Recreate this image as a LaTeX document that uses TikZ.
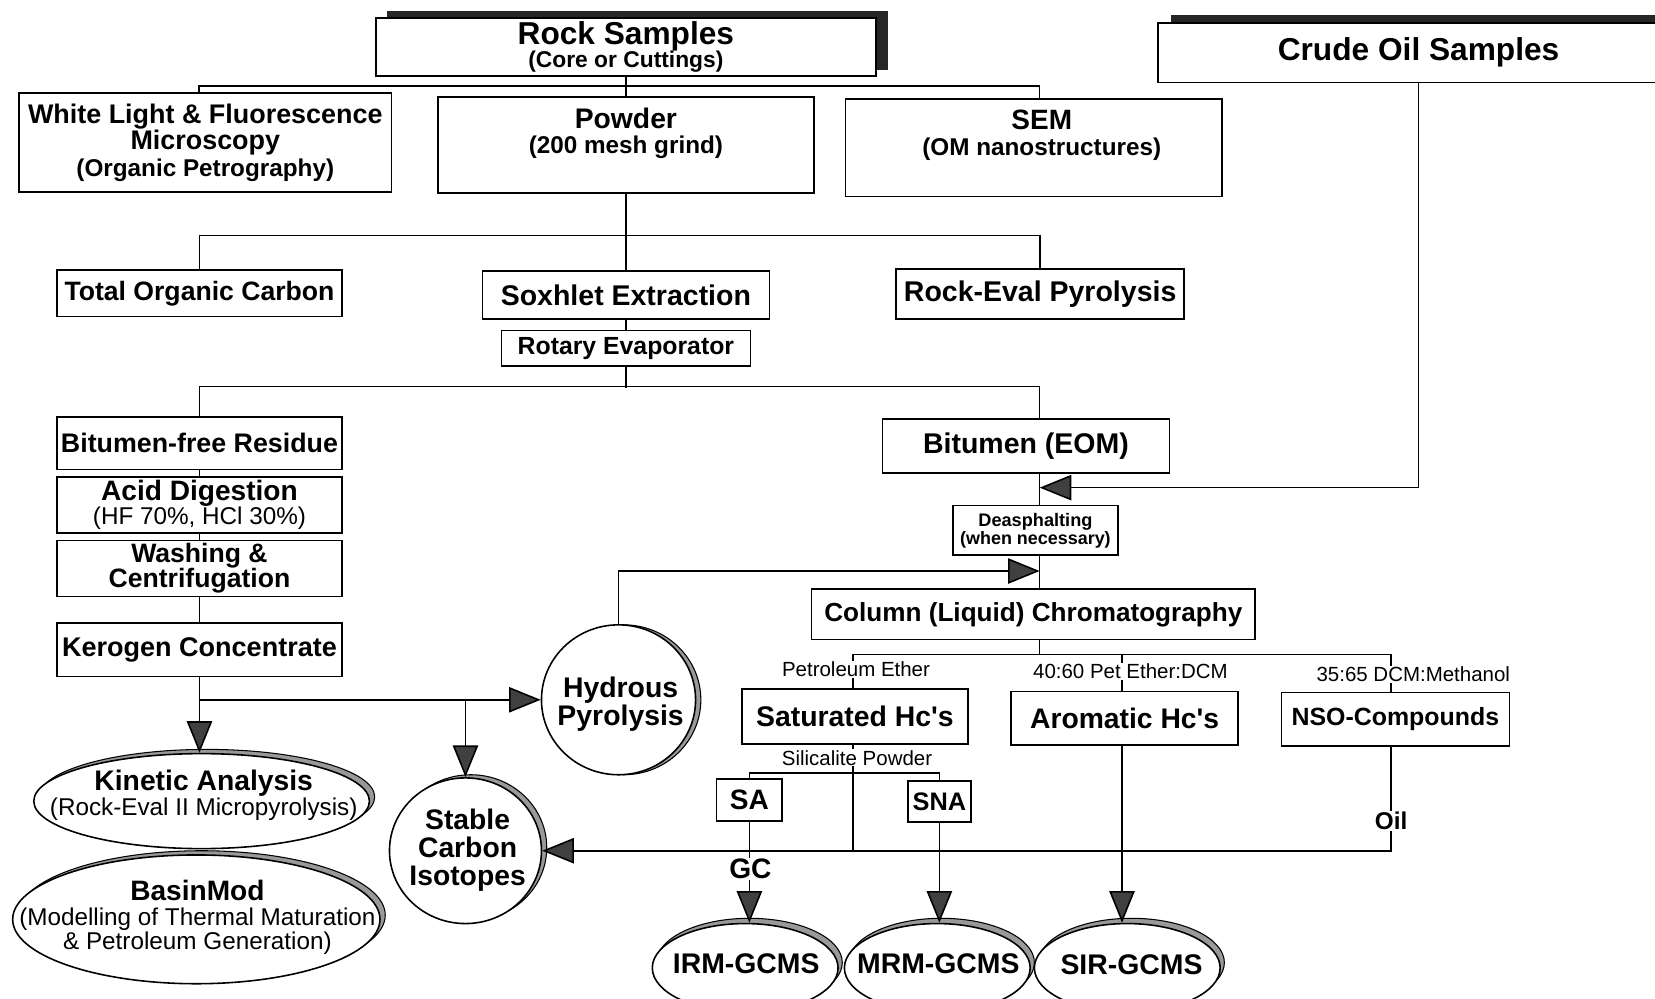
\documentclass[tikz,border=0pt]{standalone}
\usepackage{fontspec}
\setmainfont{Liberation Sans}
\usetikzlibrary{arrows.meta,shadows,shapes.geometric}
\newcommand\fb[1]{\fontsize{#1pt}{25pt}\selectfont\bfseries}
\newcommand\fr[1]{\fontsize{#1pt}{25pt}\selectfont\mdseries}
\begin{document}
\begin{tikzpicture}[x=1pt,y=-1pt,
  box/.style={draw,line width=1.5pt,fill=white,rectangle,inner sep=0pt,align=center,font=\fontsize{25pt}{25pt}\selectfont},
  oval/.style={draw,line width=1.5pt,fill=white,ellipse,inner sep=0pt},
  osh/.style 2 args={copy shadow={shadow xshift=#1pt,shadow yshift=#2pt,fill=black!40,draw=black,line width=1pt}},
  bsh/.style 2 args={copy shadow={shadow xshift=#1pt,shadow yshift=#2pt,fill=black!85,draw=black!85}},
  txt/.style={align=center,inner sep=0pt,font=\fontsize{25pt}{25pt}\selectfont},
  conn/.style={line width=1.5pt},
  arr/.style={line width=1.5pt,-{Triangle[length=30pt,width=24pt,fill=black!75]}},
  lbl/.style={fill=white,inner sep=1pt,font=\fr{19.4}},
  ]
\useasboundingbox (0,0) rectangle (1568,946);
\clip (0,0) rectangle (1568,946);
\fill[white] (0,0) rectangle (1568,946);

% ---------- top ----------
\node[box,minimum width=474pt,minimum height=55pt,bsh={11}{6}] (rock) at (593,44.5)
  {\fb{30}Rock Samples\\[-3pt]\fb{21.6}(Core or Cuttings)};
\node[box,minimum width=494pt,minimum height=56pt,bsh={13}{7}] (crude) at (1344,50)
  {\fb{30}Crude Oil Samples};

\node[box,minimum width=353pt,minimum height=94pt] (wl) at (194.5,135)
  {\fb{25.5}White Light \& Fluorescence\\\fb{25.5}Microscopy\\\fb{23}(Organic Petrography)};
\node[box,minimum width=356pt,minimum height=91pt] (powder) at (593,137.5) {};
\node[txt] at (593,126) {\fb{26.8}Powder\\[-1pt]\fb{23}(200 mesh grind)};
\node[box,minimum width=357pt,minimum height=92pt] (sem) at (979.5,140) {};
\node[txt] at (987,128) {\fb{26.5}SEM\\[-1pt]\fb{23}(OM nanostructures)};

\node[box,minimum width=270pt,minimum height=44pt] (toc) at (189,278) {\fb{25.2}Total Organic Carbon};
\node[box,minimum width=272pt,minimum height=45pt] (sox) at (593,279.5) {\fb{27}Soxhlet Extraction};
\node[box,minimum width=236pt,minimum height=34pt] (rot) at (593,330) {\fb{23.5}Rotary Evaporator};
\node[box,minimum width=273pt,minimum height=47pt] (reval) at (985.5,278.5) {\fb{27}Rock-Eval Pyrolysis};

% ---------- left column ----------
\node[box,minimum width=270pt,minimum height=50pt] (bfr) at (189,420) {\fb{25.4}Bitumen-free Residue};
\node[box,minimum width=270pt,minimum height=53pt] (acid) at (189,478.5)
  {\fb{26.6}Acid Digestion\\[-2pt]\fr{23}(HF 70\%, HCl 30\%)};
\node[box,minimum width=270pt,minimum height=53pt] (wash) at (189,538.5)
  {\fb{25.2}Washing \&\\[-1pt]\fb{25.2}Centrifugation};
\node[box,minimum width=270pt,minimum height=51pt] (ker) at (189,615.5) {\fb{25.6}Kerogen Concentrate};

% ---------- right column ----------
\node[box,minimum width=272pt,minimum height=51pt] (bit) at (972,422.5) {\fb{27}Bitumen (EOM)};
\node[box,minimum width=156pt,minimum height=47pt] (deas) at (981,502.5)
  {\fb{17.2}Deasphalting\\[-8pt]\fb{17}(when necessary)};
\node[box,minimum width=420pt,minimum height=48pt] (col) at (979,582) {\fb{24.75}Column (Liquid) Chromatography};

\node[box,minimum width=214pt,minimum height=52pt] (sat) at (810,679) {\fb{26.9}Saturated Hc\textquotesingle s};
\node[box,minimum width=215pt,minimum height=51pt] (aro) at (1065.5,680.5) {\fb{26.8}Aromatic Hc\textquotesingle s};
\node[box,minimum width=216pt,minimum height=51pt] (nso) at (1322,681.5) {\fb{23.6}NSO-Compounds};
\node[box,minimum width=62pt,minimum height=40pt] (sa) at (710,758) {\fb{26.6}SA};
\node[box,minimum width=60pt,minimum height=39pt] (sna) at (890,759.5) {\fb{24}SNA};

% ---------- ovals ----------
\node[oval,minimum width=146pt,minimum height=142pt,osh={5}{0}] (hyd) at (586,663) {};
\node[txt] at (588,667) {\fb{26.9}Hydrous\\[1pt]\fb{26.9}Pyrolysis};
\node[oval,minimum width=144pt,minimum height=138pt,osh={5}{3}] (sci) at (441,806) {};
\node[txt] at (443,805.5) {\fb{26.8}Stable\\[1.5pt]\fb{26.8}Carbon\\[1.5pt]\fb{26.8}Isotopes};
\node[oval,minimum width=318pt,minimum height=90pt,osh={5}{4}] (kin) at (191,759) {};
\node[txt] at (193,753.5) {\fb{26.8}Kinetic Analysis\\[-1pt]\fr{23}(Rock-Eval II Micropyrolysis)};
\node[oval,minimum width=348pt,minimum height=122pt,osh={5}{4}] (basin) at (186,871) {};
\node[txt] at (187,869) {\fb{26.6}BasinMod\\[-1pt]\fr{23}(Modelling of Thermal Maturation\\[-2pt]\fr{23}\& Petroleum Generation)};
\node[oval,minimum width=176pt,minimum height=84pt,osh={4}{5}] (irm) at (706,917) {};
\node[txt] at (707,913) {\fb{26.9}IRM-GCMS};
\node[oval,minimum width=176pt,minimum height=84pt,osh={4}{5}] (mrm) at (888,917) {};
\node[txt] at (889,913) {\fb{26.9}MRM-GCMS};
\node[oval,minimum width=176pt,minimum height=84pt,osh={4}{5}] (sir) at (1068,917) {};
\node[txt] at (1072,914) {\fb{26.9}SIR-GCMS};

% ---------- connectors ----------
\coordinate (ax) at (985,0);
\coordinate (cin) at (985,462);
\coordinate (hin) at (985,541);
\coordinate (b4) at (0,620);

\draw[conn] (rock.south) -- (powder.north);
\draw[conn] ([xshift=-6pt]wl.north) -- ++(0,-6) -| ([xshift=5.5pt]sem.north);
\draw[conn] (powder.south) -- (sox.north);
\draw[conn] (toc.north) -- ++(0,-32) -| (reval.north);
\draw[conn] (sox.south) -- (rot.north);
\draw[conn] (rot.south) -- ++(0,20);
\draw[conn] (bfr.north) -- ++(0,-28) -| (ax |- bit.north);
\draw[conn] (bfr.south) -- (acid.north);
\draw[conn] (acid.south) -- (wash.north);
\draw[conn] (wash.south) -- (ker.north);

\draw[conn] (ax |- bit.south) -- (ax |- deas.north);
\draw[arr] (crude.south) |- (cin);
\draw[conn] (ax |- deas.south) -- (ax |- col.north);
\draw[arr] (hyd.north) |- (hin);

\draw[conn] (ax |- col.south) -- (ax |- b4);
\draw[conn] ([xshift=-2pt]sat.north) |- ([xshift=-4pt]nso.north |- b4) -- ([xshift=-4pt]nso.north);
\draw[conn] ([xshift=-2.5pt]aro.north) -- ([xshift=-2.5pt]aro.north |- b4);

\draw[conn] ([xshift=-2pt]sat.south) -- ([xshift=-2pt]sat.south |- sci.east);
\draw[conn] (sa.north) -- ++(0,-5) -| (sna.north);
\draw[arr] (sa.south) -- (sa.south |- irm.north);
\draw[arr] (sna.south) -- (sna.south |- mrm.north);
\draw[arr] ([xshift=-2.5pt]aro.south) -- ([xshift=-2.5pt]aro.south |- sir.north);
\draw[arr] ([xshift=-4pt]nso.south) |- (sci.east);

\draw[arr] (ker.south) -- (ker.south |- kin.north);
\draw[arr] (ker.south |- hyd.west) -- (hyd.west);
\draw[arr] (sci.north |- hyd.west) -- (sci.north);

% ---------- labels ----------
\node[lbl] (lpe) at (811,634) {Petroleum Ether};
\node[lbl] (lpd) at (1071,636) {40:60 Pet Ether:DCM};
\node[lbl] (ldm) at (1339,639) {35:65 DCM:Methanol};
\node[lbl] (lsp) at (812,718) {Silicalite Powder};
\node[lbl,font=\fb{26.7}] (lgc) at (711,823) {GC};
\node[lbl,font=\fb{23}] (loil) at (1318,778) {Oil};
\end{tikzpicture}
\end{document}
